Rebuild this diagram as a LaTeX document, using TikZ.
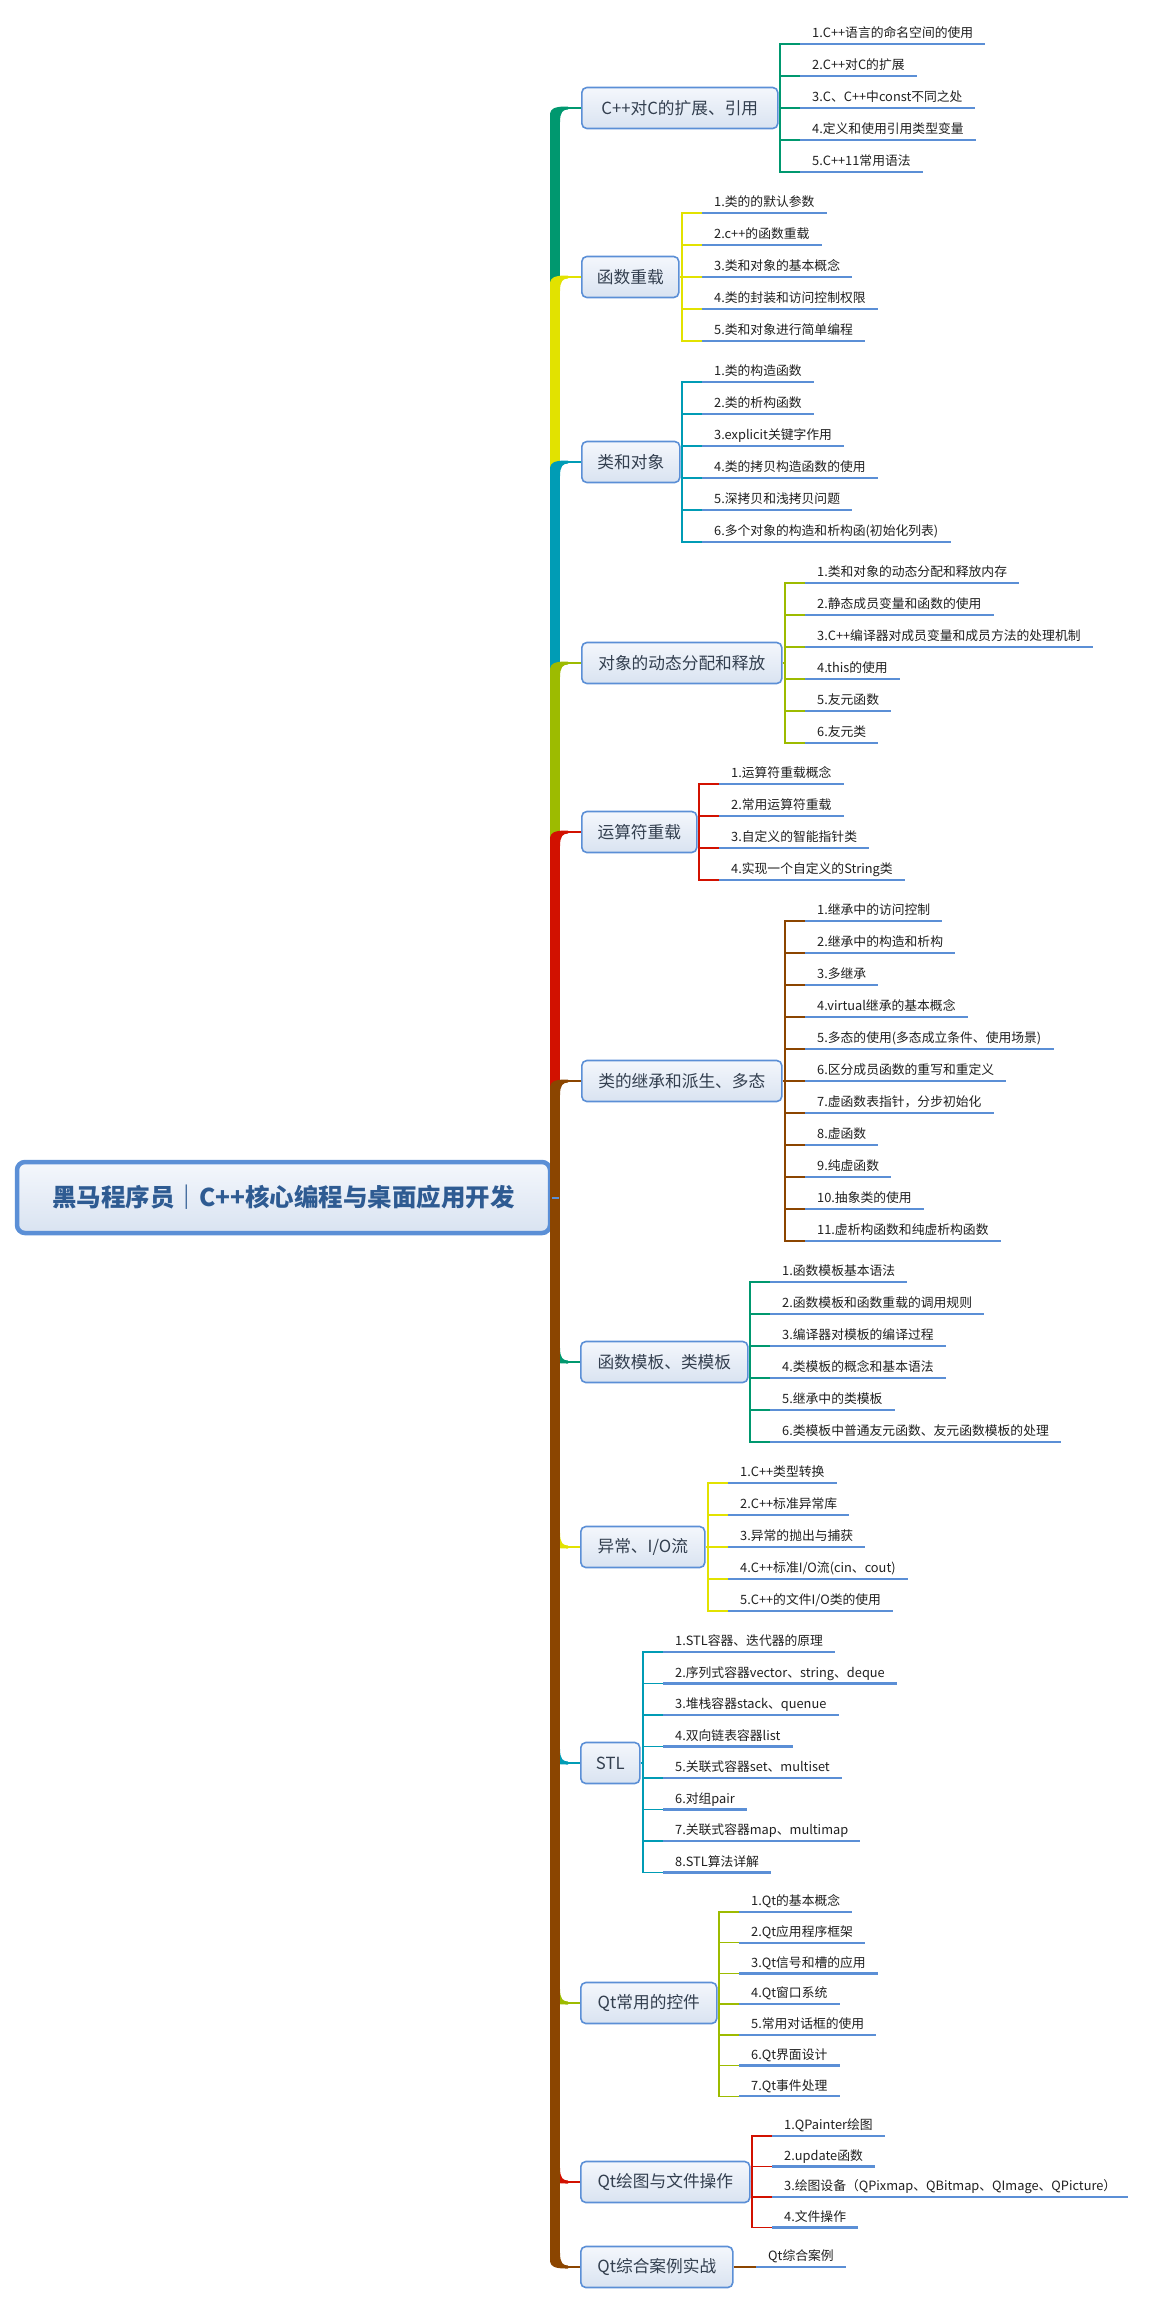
\documentclass[tikz,border=0pt]{standalone}
\usepackage{fontspec}
\setmainfont{Noto Sans CJK SC}
\definecolor{cg}{HTML}{00986F}
\definecolor{cy}{HTML}{E2E200}
\definecolor{ct}{HTML}{009CB5}
\definecolor{co}{HTML}{9DBB00}
\definecolor{cr}{HTML}{D21100}
\definecolor{cb}{HTML}{8B4500}
\definecolor{boxblue}{HTML}{5B8FD6}
\definecolor{btext}{HTML}{333F4F}
\definecolor{rtext}{HTML}{2E5B92}
\definecolor{ftop}{HTML}{F4F7FC}
\definecolor{fbot}{HTML}{D9E3F1}
\newcommand\bcorner[3]{%
  \draw[#1, line width=10pt, shorten >=7pt] (tr) -- (tr |- #2.west);
  \begin{scope}[shift={(tr |- #2.west)}, yscale=#3]
    \fill[#1] (-5,14) -- (-5,7) .. controls (-5,-1) and (3,-1.5) .. (13,-1.5) -- (13,1.5) .. controls (8,1.5) and (5,4) .. (5,14) -- cycle;
  \end{scope}
  \draw[#1, line width=2pt] (#2.west) -- ++(-16,0);
}
\newcommand\kids[4]{%
  \draw[brk,#1] (#3-1.south west) -- ++(-20,0) |- (#3-#4.south west);
  \foreach \k in {1,...,#4} \draw[brk,#1] (#3-\k.south west) -- ++(-20,0);
  \draw[brk,#1] (#2.east) -- ([xshift=-20pt]#3-1.south west |- #2.east);
  \foreach \k in {1,...,#4} \draw[ul] (#3-\k.south west) -- (#3-\k.south east);
}
\begin{document}
\begin{tikzpicture}[x=1pt,y=-1pt,
  rootbox/.style={draw=boxblue, line width=4.5pt, rounded corners=8pt, top color=ftop, bottom color=fbot,
    minimum width=533pt, minimum height=71pt, inner sep=2pt, text=rtext,
    font=\fontsize{24.5}{28}\selectfont\bfseries},
  bbox/.style={draw=boxblue, line width=1.6pt, rounded corners=5pt, top color=ftop, bottom color=fbot,
    minimum height=41pt, inner xsep=3pt, anchor=west, text=btext,
    font=\fontsize{16.7}{20}\selectfont},
  leaf/.style={anchor=south west, inner xsep=12pt, inner ysep=6pt, text height=10pt, text depth=0pt,
    text=black!88, font=\fontsize{12.8}{15}\selectfont},
  ul/.style={draw=boxblue, line width=2.4pt},
  brk/.style={line width=1.4pt}]
\useasboundingbox (0,0) rectangle (1154,2324);

% root
\node[rootbox] (root) at (283.5,1197.5) {黑马程序员｜C++核心编程与桌面应用开发};
\coordinate (tr) at (555,1197.5);

% branch boxes
\node[bbox, minimum width=196pt] (B1) at (581,108) {C++对C的扩展、引用};
\node[bbox, minimum width=97pt] (B2) at (581,277) {函数重载};
\node[bbox, minimum width=98pt] (B3) at (581,462) {类和对象};
\node[bbox, minimum width=200pt] (B4) at (581,663) {对象的动态分配和释放};
\node[bbox, minimum width=115pt] (B5) at (581,832) {运算符重载};
\node[bbox, minimum width=200pt] (B6) at (581,1081) {类的继承和派生、多态};
\node[bbox, minimum width=167pt] (B7) at (580,1362) {函数模板、类模板};
\node[bbox, minimum width=124pt] (B8) at (580,1547) {异常、I/O流};
\node[bbox, minimum width=59pt] (B9) at (580,1763) {STL};
\node[bbox, minimum width=136pt] (B10) at (580,2003) {Qt常用的控件};
\node[bbox, minimum width=169pt] (B11) at (580,2182) {Qt绘图与文件操作};
\node[bbox, minimum width=152pt] (B12) at (580,2267) {Qt综合案例实战};

% leaves
\foreach \t [count=\i] in {1.C++语言的命名空间的使用, 2.C++对C的扩展, 3.C、C++中const不同之处, 4.定义和使用引用类型变量, 5.C++11常用语法}
  \node[leaf] (c1-\i) at (800,{44+32*(\i-1)}) {\t};
\foreach \t [count=\i] in {1.类的的默认参数, 2.c++的函数重载, 3.类和对象的基本概念, 4.类的封装和访问控制权限, 5.类和对象进行简单编程}
  \node[leaf] (c2-\i) at (702,{213+32*(\i-1)}) {\t};
\foreach \t [count=\i] in {1.类的构造函数, 2.类的析构函数, 3.explicit关键字作用, 4.类的拷贝构造函数的使用, 5.深拷贝和浅拷贝问题, 6.多个对象的构造和析构函(初始化列表)}
  \node[leaf] (c3-\i) at (702,{382+32*(\i-1)}) {\t};
\foreach \t [count=\i] in {1.类和对象的动态分配和释放内存, 2.静态成员变量和函数的使用, 3.C++编译器对成员变量和成员方法的处理机制, 4.this的使用, 5.友元函数, 6.友元类}
  \node[leaf] (c4-\i) at (805,{583+32*(\i-1)}) {\t};
\foreach \t [count=\i] in {1.运算符重载概念, 2.常用运算符重载, 3.自定义的智能指针类, 4.实现一个自定义的String类}
  \node[leaf] (c5-\i) at (719,{784+32*(\i-1)}) {\t};
\foreach \t [count=\i] in {1.继承中的访问控制, 2.继承中的构造和析构, 3.多继承, 4.virtual继承的基本概念, 5.多态的使用(多态成立条件、使用场景), 6.区分成员函数的重写和重定义, 7.虚函数表指针，分步初始化, 8.虚函数, 9.纯虚函数, 10.抽象类的使用, 11.虚析构函数和纯虚析构函数}
  \node[leaf] (c6-\i) at (805,{921+32*(\i-1)}) {\t};
\foreach \t [count=\i] in {1.函数模板基本语法, 2.函数模板和函数重载的调用规则, 3.编译器对模板的编译过程, 4.类模板的概念和基本语法, 5.继承中的类模板, 6.类模板中普通友元函数、友元函数模板的处理}
  \node[leaf] (c7-\i) at (770,{1282+32*(\i-1)}) {\t};
\foreach \t [count=\i] in {1.C++类型转换, 2.C++标准异常库, 3.异常的抛出与捕获, 4.C++标准I/O流(cin、cout), 5.C++的文件I/O类的使用}
  \node[leaf] (c8-\i) at (728,{1483+32*(\i-1)}) {\t};
\foreach \t [count=\i] in {1.STL容器、迭代器的原理, 2.序列式容器vector、string、deque, 3.堆栈容器stack、quenue, 4.双向链表容器list, 5.关联式容器set、multiset, 6.对组pair, 7.关联式容器map、multimap, 8.STL算法详解}
  \node[leaf] (c9-\i) at (663,{1652+31.5*(\i-1)}) {\t};
\foreach \t [count=\i] in {1.Qt的基本概念, 2.Qt应用程序框架, 3.Qt信号和槽的应用, 4.Qt窗口系统, 5.常用对话框的使用, 6.Qt界面设计, 7.Qt事件处理}
  \node[leaf] (c10-\i) at (739,{1912+30.7*(\i-1)}) {\t};
\foreach \t [count=\i] in {1.QPainter绘图, 2.update函数, 3.绘图设备（QPixmap、QBitmap、QImage、QPicture）, 4.文件操作}
  \node[leaf] (c11-\i) at (772,{2136+30.5*(\i-1)}) {\t};
\node[leaf] (c12-1) at (756,2267) {Qt综合案例};

% brackets and underlines
\kids{cg}{B1}{c1}{5}
\kids{cy}{B2}{c2}{5}
\kids{ct}{B3}{c3}{6}
\kids{co}{B4}{c4}{6}
\kids{cr}{B5}{c5}{4}
\kids{cb}{B6}{c6}{11}
\kids{cg}{B7}{c7}{6}
\kids{cy}{B8}{c8}{5}
\kids{ct}{B9}{c9}{8}
\kids{co}{B10}{c10}{7}
\kids{cr}{B11}{c11}{4}
\kids{cb}{B12}{c12}{1}

% trunk
\bcorner{cg}{B1}{1}
\bcorner{cy}{B2}{1}
\bcorner{ct}{B3}{1}
\bcorner{co}{B4}{1}
\bcorner{cr}{B5}{1}
\bcorner{cb}{B6}{1}
\bcorner{cg}{B7}{-1}
\bcorner{cy}{B8}{-1}
\bcorner{ct}{B9}{-1}
\bcorner{co}{B10}{-1}
\bcorner{cr}{B11}{-1}
\bcorner{cb}{B12}{-1}
\draw[boxblue, line width=2pt] (root.east) -- ++(7,0);
\end{tikzpicture}
\end{document}
